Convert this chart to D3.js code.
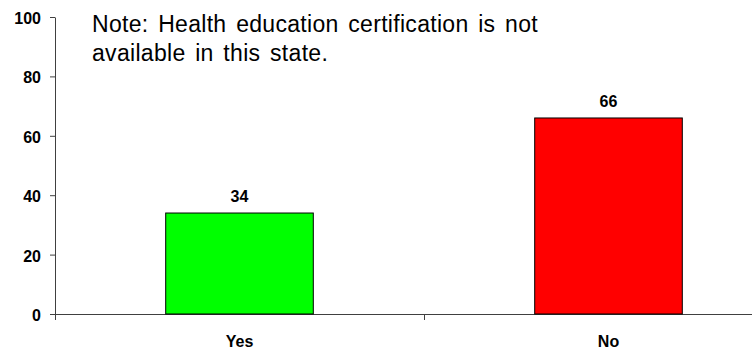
<!DOCTYPE html>
<html>
<head>
<meta charset="utf-8">
<script src="https://cdn.jsdelivr.net/npm/d3@7"></script>
<style>
  body { margin: 0; background: #fff; }
  svg { display: block; font-family: Arial, "Liberation Sans", sans-serif; }
  .axis path, .axis line { stroke: #404040; }
  .tick text { font-weight: bold; font-size: 16px; fill: #000; }
</style>
</head>
<body>
<div id="chart"></div>
<script>
// chart data
var categories = ["Yes", "No"];
var values = [34, 66];
var colors = ["#00ff00", "#ff0000"];
var yTicks = [0, 20, 40, 60, 80, 100];
var noteLines = ["Note: Health education certification is not", "available in this state."];

var width = 752, height = 350;

var svg = d3.select("#chart").append("svg")
    .attr("width", width)
    .attr("height", height);

// scales
var xScale = d3.scaleBand()
    .domain(categories)
    .range([55, 793])
    .padding(0);

var yScale = d3.scaleLinear()
    .domain([0, 100])
    .range([314, 17]);

// y axis
var yAxis = d3.axisLeft(yScale)
    .tickValues(yTicks)
    .tickSize(5)
    .tickPadding(9)
    .tickSizeOuter(0);

svg.append("g")
    .attr("class", "axis")
    .attr("transform", "translate(55,0)")
    .call(yAxis)
    .selectAll("text")
    .attr("dy", "0.4em");

// x axis: baseline plus ticks on the category boundaries
var xAxisG = svg.append("g").attr("class", "axis");

xAxisG.append("line")
    .attr("x1", xScale.range()[0])
    .attr("x2", xScale.range()[1])
    .attr("y1", yScale(0) + 0.5)
    .attr("y2", yScale(0) + 0.5);

xAxisG.selectAll("line.boundary")
    .data(categories)
    .enter()
    .append("line")
    .attr("class", "boundary")
    .attr("x1", function(d) { return Math.round(xScale(d)) + 0.5; })
    .attr("x2", function(d) { return Math.round(xScale(d)) + 0.5; })
    .attr("y1", yScale(0))
    .attr("y2", yScale(0) + 6);

xAxisG.selectAll("text")
    .data(categories)
    .enter()
    .append("text")
    .text(function(d) { return d; })
    .attr("x", function(d) { return xScale(d) + xScale.bandwidth() / 2; })
    .attr("y", 347)
    .attr("text-anchor", "middle")
    .style("font-weight", "bold")
    .style("font-size", "16px");

// bars
var barW = xScale.bandwidth() * 0.4;

svg.selectAll("rect.bar")
    .data(values)
    .enter()
    .append("rect")
    .attr("class", "bar")
    .attr("x", function(d, i) { return xScale(categories[i]) + (xScale.bandwidth() - barW) / 2; })
    .attr("y", function(d) { return yScale(d); })
    .attr("width", barW)
    .attr("height", function(d) { return yScale(0) - yScale(d); })
    .attr("fill", function(d, i) { return colors[i]; })
    .attr("stroke", "#000")
    .attr("stroke-width", 1);

// value labels above the bars
svg.selectAll("text.value")
    .data(values)
    .enter()
    .append("text")
    .attr("class", "value")
    .text(function(d) { return d; })
    .attr("x", function(d, i) { return xScale(categories[i]) + xScale.bandwidth() / 2; })
    .attr("y", function(d) { return yScale(d) - 11; })
    .attr("text-anchor", "middle")
    .style("font-weight", "bold")
    .style("font-size", "16px");

// note text
svg.selectAll("text.note")
    .data(noteLines)
    .enter()
    .append("text")
    .attr("class", "note")
    .text(function(d) { return d; })
    .attr("x", 92)
    .attr("y", function(d, i) { return 32 + i * 29; })
    .style("font-size", "23px")
    .style("letter-spacing", "0.3px")
    .style("word-spacing", "3px");
</script>
</body>
</html>
